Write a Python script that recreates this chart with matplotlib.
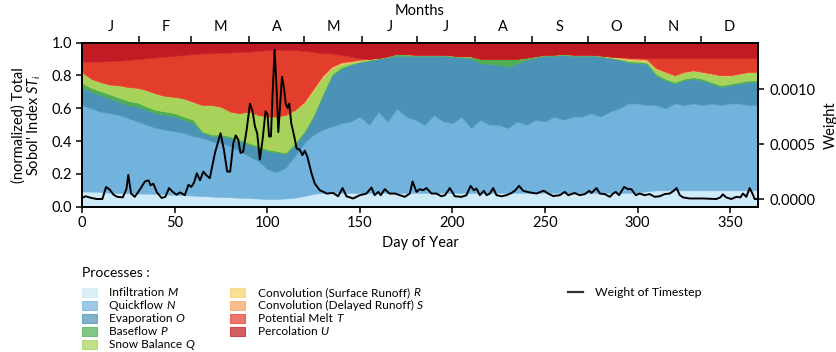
import numpy as np
import matplotlib
matplotlib.use('Agg')
import matplotlib.pyplot as plt
from matplotlib.patches import Rectangle
from matplotlib.lines import Line2D
from matplotlib.ticker import FixedLocator, FixedFormatter, FormatStrFormatter

plt.rcParams['font.family'] = ['Lato', 'DejaVu Sans']
plt.rcParams['mathtext.fontset'] = 'custom'
plt.rcParams['mathtext.rm'] = 'Lato'
plt.rcParams['mathtext.it'] = 'Lato:italic'
plt.rcParams['font.size'] = 9.5

# ---------------- data ----------------
days = list(range(0, 366, 5))

infiltration_M = [0.093, 0.092, 0.09, 0.085, 0.082, 0.082, 0.08, 0.08, 0.078, 0.075, 0.072, 0.07, 0.068,
                  0.065, 0.062, 0.06, 0.058, 0.055, 0.052, 0.05, 0.047, 0.047, 0.05, 0.055, 0.065, 0.078, 0.085,
                  0.085, 0.085, 0.085, 0.085, 0.085, 0.085, 0.085, 0.085, 0.085, 0.085, 0.085, 0.085, 0.085,
                  0.085, 0.085, 0.085, 0.085, 0.085, 0.085, 0.085, 0.085, 0.085, 0.085, 0.085, 0.085, 0.085,
                  0.085, 0.085, 0.085, 0.085, 0.085, 0.085, 0.085, 0.085, 0.095,
                  0.10, 0.10, 0.10, 0.10, 0.10, 0.10, 0.10, 0.10, 0.10, 0.10, 0.10, 0.10]
quickflow_N = [0.527, 0.508, 0.49, 0.485, 0.478, 0.458, 0.44, 0.42, 0.402, 0.395, 0.388, 0.38, 0.362,
               0.355, 0.338, 0.33, 0.312, 0.285, 0.258, 0.23, 0.183, 0.163, 0.19, 0.255, 0.325, 0.362, 0.385,
               0.405, 0.425, 0.435, 0.465, 0.415, 0.495, 0.435, 0.515, 0.465, 0.445, 0.415, 0.475, 0.435,
               0.425, 0.465, 0.395, 0.445, 0.415, 0.415, 0.395, 0.435, 0.415, 0.445, 0.435, 0.465, 0.445,
               0.465, 0.465, 0.485, 0.465, 0.495, 0.515, 0.545, 0.545, 0.525,
               0.52, 0.50, 0.53, 0.52, 0.53, 0.52, 0.53, 0.52, 0.53, 0.53, 0.52, 0.52]
evaporation_O = [0.11, 0.10, 0.10, 0.09, 0.08, 0.08, 0.09, 0.09, 0.09, 0.09, 0.09, 0.08, 0.08,
                 0.03, 0.03, 0.04, 0.05, 0.06, 0.07, 0.08, 0.11, 0.12, 0.08, 0.07, 0.06, 0.11, 0.21,
                 0.31, 0.33, 0.345, 0.33, 0.39, 0.32, 0.39, 0.32, 0.37, 0.39, 0.42, 0.36, 0.40,
                 0.405, 0.36, 0.425, 0.345, 0.37, 0.365, 0.375, 0.355, 0.395, 0.38, 0.40, 0.37, 0.395,
                 0.37, 0.37, 0.35, 0.365, 0.325, 0.295, 0.25, 0.245, 0.25,
                 0.18, 0.17, 0.12, 0.15, 0.15, 0.15, 0.12, 0.11, 0.11, 0.12, 0.14, 0.14]
baseflow_P = [0.025, 0.025, 0.025, 0.025, 0.025, 0.025, 0.025, 0.02, 0.02, 0.02, 0.02, 0.02, 0.02,
              0.01, 0.01, 0.01, 0.01, 0.01, 0.01, 0.01, 0.01, 0.01, 0.01, 0.01, 0.01, 0.01, 0.01,
              0.01, 0.01, 0.005, 0.005, 0.005, 0.005, 0.005, 0.01, 0.008, 0.005, 0.005, 0.005, 0.005,
              0.005, 0.005, 0.01, 0.025, 0.03, 0.035, 0.045, 0.025, 0.012, 0.006, 0.005, 0.005, 0.005,
              0.005, 0.005, 0.005, 0.005, 0.005, 0.006, 0.007, 0.008, 0.008,
              0.01, 0.01, 0.01, 0.01, 0.01, 0.01, 0.01, 0.01, 0.01, 0.01, 0.01, 0.01]
snow_balance_Q = [0.065, 0.055, 0.055, 0.06, 0.075, 0.085, 0.09, 0.10, 0.10, 0.095, 0.10, 0.11, 0.11,
                  0.16, 0.18, 0.17, 0.15, 0.16, 0.19, 0.19, 0.20, 0.21, 0.23, 0.20, 0.17, 0.15, 0.10,
                  0.035, 0.02, 0.01, 0.005, 0.003, 0.002, 0.002, 0.003, 0.002, 0.002, 0.002, 0.002, 0.002,
                  0.002, 0.002, 0.002, 0.002, 0.002, 0.002, 0.002, 0.002, 0.002, 0.002, 0.002, 0.002, 0.002,
                  0.002, 0.002, 0.002, 0.002, 0.002, 0.004, 0.008, 0.01, 0.01,
                  0.03, 0.04, 0.04, 0.04, 0.04, 0.04, 0.05, 0.06, 0.05, 0.05, 0.05, 0.05]
conv_surface_R = [0, 0, 0, 0, 0, 0, 0, 0, 0, 0, 0, 0, 0,
                  0, 0, 0, 0, 0, 0, 0, 0, 0, 0, 0, 0.005, 0.005, 0.005,
                  0.005, 0.005, 0.004, 0.003, 0.002, 0, 0, 0, 0, 0, 0, 0, 0,
                  0, 0, 0, 0, 0, 0, 0, 0, 0, 0, 0, 0, 0,
                  0, 0, 0, 0, 0.002, 0.003, 0.004, 0.004, 0.004,
                  0.002, 0.001, 0, 0, 0, 0, 0, 0, 0, 0, 0, 0]
conv_delayed_S = [0, 0, 0, 0, 0, 0, 0, 0, 0, 0, 0, 0, 0,
                  0, 0, 0, 0, 0, 0, 0, 0, 0, 0, 0, 0.005, 0.005, 0.005,
                  0.005, 0.005, 0.004, 0.003, 0.002, 0, 0, 0, 0, 0, 0, 0, 0,
                  0, 0, 0, 0, 0, 0, 0, 0, 0, 0, 0, 0, 0,
                  0, 0, 0, 0, 0.002, 0.003, 0.005, 0.006, 0.006,
                  0.003, 0.002, 0.002, 0.002, 0.002, 0.002, 0.002, 0.002, 0.002, 0.002, 0.002, 0.002]
potential_melt_T = [0.065, 0.105, 0.125, 0.145, 0.15, 0.165, 0.175, 0.195, 0.22, 0.24, 0.25, 0.265, 0.29,
                    0.315, 0.315, 0.33, 0.36, 0.375, 0.365, 0.39, 0.405, 0.405, 0.395, 0.365, 0.31, 0.225, 0.135,
                    0.08, 0.045, 0.027, 0.009, 0, 0, 0, 0, 0, 0, 0, 0, 0,
                    0, 0, 0, 0, 0, 0, 0, 0, 0, 0, 0, 0, 0,
                    0, 0, 0, 0, 0, 0.002, 0.006, 0.005, 0.007,
                    0.06, 0.082, 0.103, 0.083, 0.073, 0.083, 0.093, 0.103, 0.103, 0.093, 0.083, 0.083]
percolation_U = [0.115, 0.115, 0.115, 0.11, 0.11, 0.105, 0.10, 0.095, 0.09, 0.085, 0.08, 0.075, 0.07,
                 0.065, 0.065, 0.06, 0.06, 0.055, 0.055, 0.05, 0.045, 0.045, 0.045, 0.045, 0.05, 0.055, 0.065,
                 0.065, 0.075, 0.085, 0.095, 0.098, 0.093, 0.083, 0.067, 0.07, 0.073, 0.073, 0.073, 0.073,
                 0.078, 0.083, 0.083, 0.098, 0.098, 0.098, 0.098, 0.098, 0.091, 0.082, 0.073, 0.073, 0.068,
                 0.073, 0.073, 0.073, 0.078, 0.084, 0.087, 0.09, 0.092, 0.095,
                 0.095, 0.095, 0.095, 0.095, 0.095, 0.095, 0.095, 0.095, 0.095, 0.095, 0.095, 0.095]

weight_days = [0, 2, 5, 8, 11, 13, 15, 17, 19, 22, 24, 25, 26.5, 28.5, 31, 34, 36, 37, 38.5, 40.5,
               43, 45, 47, 49, 51, 53, 55.5, 57.5, 59, 60.5, 62, 63.7, 65.5, 67.5, 69, 71.8, 74.8, 76.6,
               78.4, 80, 81.7, 83, 84.4, 85.6, 87, 88.9, 90.7, 92.1, 93.4, 94.6, 96, 97.5, 99.1, 100.2,
               101, 102, 103, 104, 105, 106, 106.9, 108, 109, 110, 111, 111.9, 113, 114.6, 115.9, 117.6,
               119, 120.3, 121.6, 124, 125.7, 128.4, 131, 132, 135.6, 138.3, 140.7, 142.8, 146.4, 150,
               153.6, 156.3, 158, 160, 161.3, 163.5, 166, 169, 171.6, 174.3, 177, 178.5, 180.6, 182.4,
               184.2, 186, 188.7, 191.4, 194, 196, 198.6, 201.3, 205, 207.6, 209.8, 211.6, 213, 214.8,
               217, 218.4, 220.2, 222, 223.8, 226.5, 229.2, 231.9, 233.7, 236, 238.2, 241.8, 245.4,
               249.3, 251.7, 254.4, 258, 260.7, 262.5, 266, 268.7, 271.5, 273.9, 275.1, 277.8, 279.6,
               282.2, 285, 286.8, 288.2, 290, 292.7, 294.8, 296.6, 299, 301.1, 303.8, 306.5, 309.2,
               311.9, 314.6, 317.3, 319.5, 321, 322.8, 324.5, 328, 335.3, 342.5, 344.7, 346, 347.8,
               350.6, 353.3, 355.5, 356.9, 358.7, 360.5, 362, 363.2, 364.5]
weight_values = [0.1e-4, 0.25e-4, 0.1e-4, 0.0, 0.0, 1.1e-4, 0.85e-4, 0.4e-4, 0.2e-4, 0.15e-4, 0.9e-4,
                 2.2e-4, 0.5e-4, 0.2e-4, 0.8e-4, 1.6e-4, 1.7e-4, 1.25e-4, 1.4e-4, 0.6e-4,
                 0.1e-4, 0.2e-4, 1.0e-4, 0.65e-4, 0.4e-4, 0.6e-4, 0.35e-4, 1.3e-4, 1.1e-4, 1.5e-4,
                 2.35e-4, 1.7e-4, 2.5e-4, 2.1e-4, 1.9e-4, 4.2e-4, 6.0e-4, 4.5e-4,
                 2.5e-4, 2.5e-4, 5.1e-4, 5.8e-4, 5.4e-4, 4.2e-4, 4.3e-4, 6.3e-4, 8.7e-4, 8.0e-4,
                 6.6e-4, 6.0e-4, 3.6e-4, 5.4e-4, 8.0e-4, 7.7e-4,
                 5.7e-4, 5.7e-4, 9.9e-4, 13.6e-4, 10.3e-4, 6.1e-4, 8.4e-4, 11.15e-4, 10.2e-4, 8.7e-4,
                 8.3e-4, 8.7e-4, 6.9e-4, 5.7e-4, 4.6e-4, 4.5e-4,
                 4.0e-4, 4.4e-4, 3.9e-4, 2.3e-4, 1.4e-4, 0.8e-4, 0.6e-4, 0.5e-4, 0.55e-4, 0.25e-4,
                 1.0e-4, 0.25e-4, 0.05e-4, 0.35e-4,
                 0.5e-4, 1.05e-4, 0.35e-4, 0.65e-4, 0.35e-4, 0.9e-4, 0.5e-4, 0.5e-4, 0.35e-4, 0.2e-4,
                 0.5e-4, 1.6e-4, 0.65e-4, 0.9e-4,
                 0.8e-4, 1.0e-4, 0.5e-4, 0.5e-4, 0.25e-4, 0.35e-4, 1.0e-4, 0.25e-4, 0.2e-4, 0.35e-4,
                 1.2e-4, 0.8e-4, 0.95e-4, 0.35e-4,
                 0.75e-4, 0.35e-4, 0.5e-4, 1.0e-4, 0.35e-4, 0.25e-4, 0.35e-4, 0.55e-4, 0.75e-4,
                 1.2e-4, 0.75e-4, 0.6e-4, 0.5e-4,
                 0.76e-4, 0.5e-4, 0.27e-4, 0.35e-4, 0.65e-4, 0.35e-4, 0.55e-4, 0.35e-4, 0.45e-4,
                 0.75e-4, 0.55e-4, 1.0e-4, 0.5e-4,
                 0.45e-4, 0.2e-4, 0.5e-4, 0.65e-4, 0.35e-4, 1.1e-4, 0.9e-4, 0.9e-4, 0.35e-4, 0.5e-4,
                 0.35e-4, 0.45e-4, 0.2e-4,
                 0.25e-4, 0.45e-4, 0.5e-4, 0.75e-4, 1.0e-4, 0.35e-4, 0.15e-4, 0.05e-4, 0.05e-4, 0.0,
                 0.15e-4, 0.43e-4, 0.15e-4,
                 0.0, 0.2e-4, 0.15e-4, 0.5e-4, 0.2e-4, 1.0e-4, 0.5e-4, 0.0, 0.0]

month_bounds = [31, 59, 90, 120, 151, 181, 212, 243, 273, 304, 334]
month_mids = [15.5, 45, 74.5, 105, 135.5, 166, 196.5, 227.5, 258, 288.5, 319, 349.5]
month_labels = ['J', 'F', 'M', 'A', 'M', 'J', 'J', 'A', 'S', 'O', 'N', 'D']

process_names = ['Infiltration', 'Quickflow', 'Evaporation', 'Baseflow', 'Snow Balance',
                 'Convolution (Surface Runoff)', 'Convolution (Delayed Runoff)',
                 'Potential Melt', 'Percolation']
process_symbols = ['M', 'N', 'O', 'P', 'Q', 'R', 'S', 'T', 'U']
colors = ['#cfeaf8', '#72b3de', '#4a93b6', '#4fae52', '#a7d35b',
          '#f6d16b', '#f4a259', '#e33e2b', '#c11c24']

# ---------------- figure ----------------
W, H = 836, 352
fig = plt.figure(figsize=(W / 100, H / 100), dpi=100)


def fx(px):
    return px / W


def fy(py):
    return 1 - py / H


ax = fig.add_axes([fx(82), fy(206.7), fx(758) - fx(82), fy(42.7) - fy(206.7)])
ax.stackplot(days, infiltration_M, quickflow_N, evaporation_O, baseflow_P, snow_balance_Q,
             conv_surface_R, conv_delayed_S, potential_melt_T, percolation_U,
             colors=colors, linewidth=0.4, edgecolor='face')
ax.set_xlim(0, 365)
ax.set_ylim(0, 1)
ax.set_xticks(range(0, 351, 50))
ax.set_yticks(np.arange(0, 1.01, 0.2))
ax.yaxis.set_major_formatter(FormatStrFormatter('%.1f'))
ax.tick_params(direction='out', length=4, width=1.1, labelsize=10.5, pad=3)
ax.set_xlabel('Day of Year', fontsize=10.5, labelpad=4)
ax.set_ylabel("(normalized) Total\nSobol' Index $ST_i$", fontsize=10.5, labelpad=6, linespacing=1.0)
for sp in ax.spines.values():
    sp.set_linewidth(1.3)

ax2 = ax.twinx()
ax2.plot(weight_days, weight_values, color='black', linewidth=1.4)
ax2.set_ylim(-0.00007, 0.001425)
ax2.set_yticks([0.0, 0.0005, 0.0010])
ax2.yaxis.set_major_formatter(FormatStrFormatter('%.4f'))
ax2.tick_params(direction='out', length=4, width=1.1, labelsize=10.5, pad=4)
ax2.set_ylabel('Weight', fontsize=10.5, labelpad=6)
for sp in ax2.spines.values():
    sp.set_linewidth(1.3)

sec = ax.secondary_xaxis('top')
sec.xaxis.set_major_locator(FixedLocator(month_bounds))
sec.xaxis.set_major_formatter(FixedFormatter([''] * len(month_bounds)))
sec.xaxis.set_minor_locator(FixedLocator(month_mids))
sec.xaxis.set_minor_formatter(FixedFormatter(month_labels))
sec.tick_params(which='major', direction='out', length=5, width=1.1)
sec.tick_params(which='minor', length=0, labelsize=10.5, pad=6)
sec.set_xlabel('Months', fontsize=10.5, labelpad=4)
sec.spines['top'].set_linewidth(1.3)

# ---------------- legend ----------------
renderer = fig.canvas.get_renderer()
fig.text(fx(82), fy(273), 'Processes :', fontsize=10, va='center', ha='left')
rows = [292.5, 305.6, 318.7, 331.8, 344.9]
for i, (name, sym, col) in enumerate(zip(process_names, process_symbols, colors)):
    if i < 5:
        px, tx, py = 82, 109, rows[i]
    else:
        px, tx, py = 230, 258, rows[i - 5]
    fig.add_artist(Rectangle((fx(px), fy(py + 4.5)), fx(14.5), fy(0) - fy(9),
                             transform=fig.transFigure, facecolor=col, alpha=0.7,
                             edgecolor=col, linewidth=0.8))
    t = fig.text(fx(tx), fy(py), name + ' ', fontsize=8.6, va='center', ha='left')
    ext = t.get_window_extent(renderer)
    fig.text(fx(ext.x1), fy(py), sym, fontsize=8.6, va='center', ha='left', style='italic')

fig.add_artist(Line2D([fx(568), fx(582.5)], [fy(292.3), fy(292.3)], transform=fig.transFigure,
                      color='#333333', linewidth=1.6))
fig.text(fx(595), fy(292.3), 'Weight of Timestep', fontsize=8.8, va='center', ha='left')

fig.savefig('out.png', dpi=100)
